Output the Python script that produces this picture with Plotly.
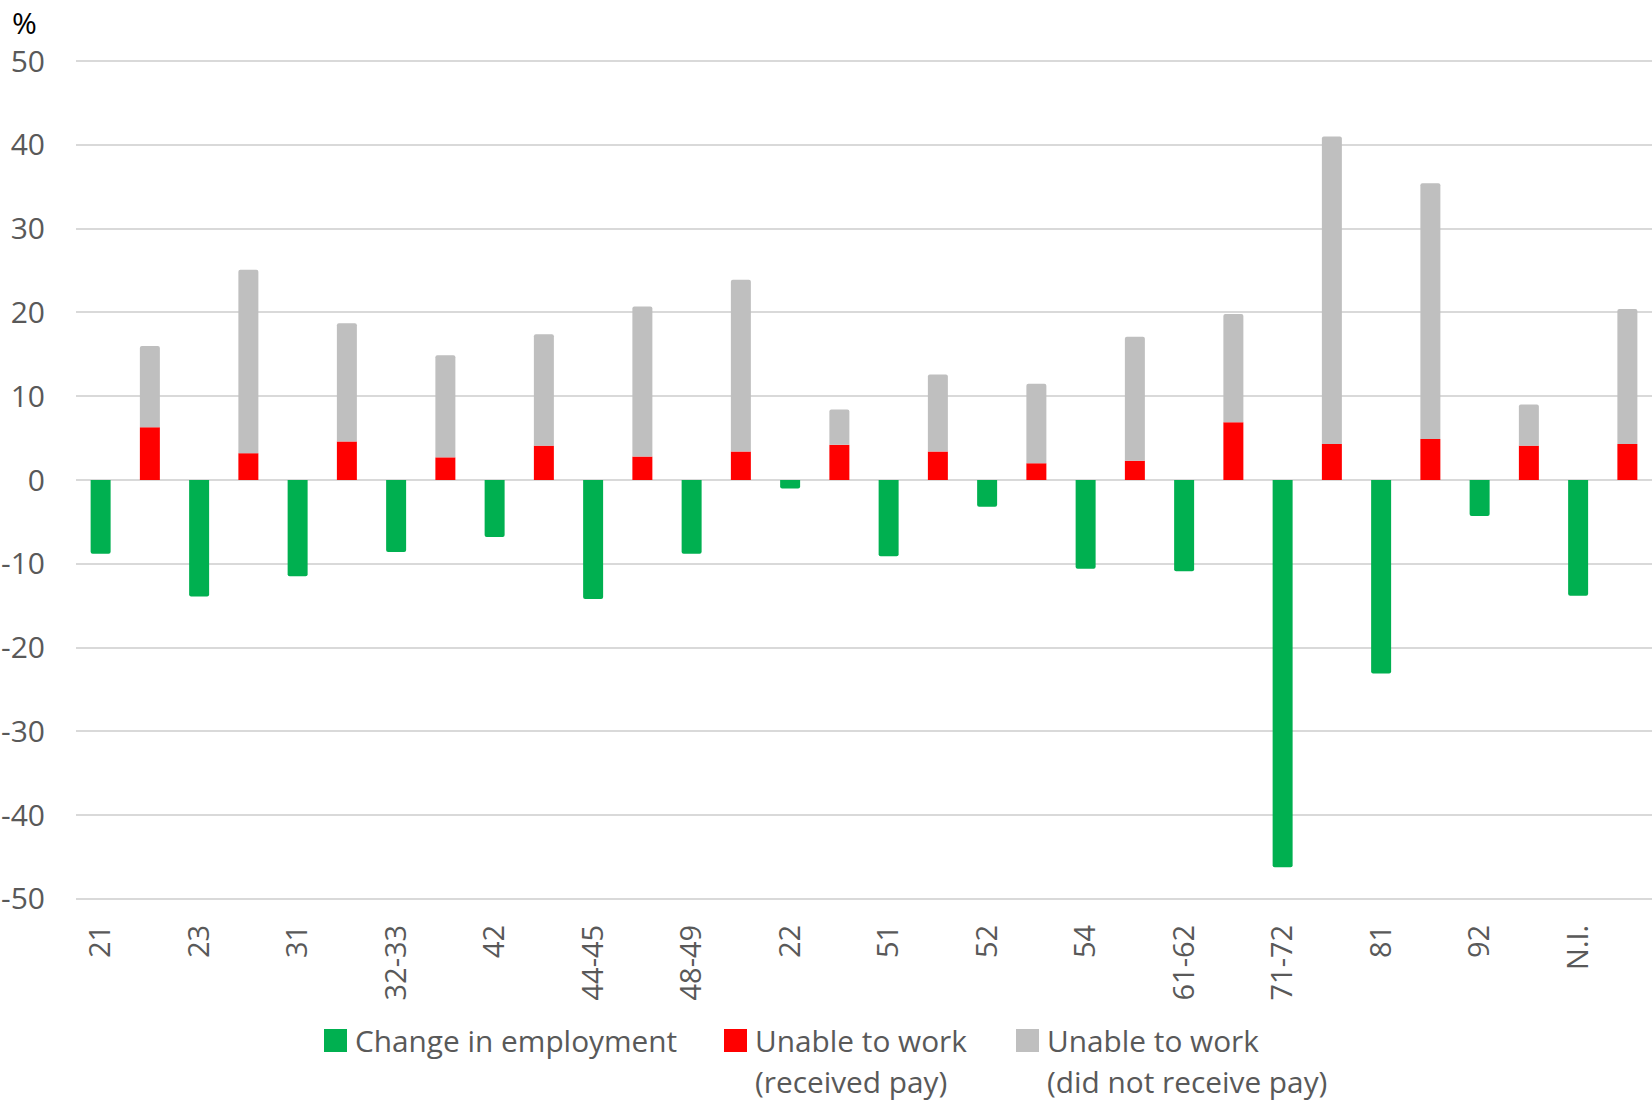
import plotly.graph_objects as go

# ---- data ----
categories = ["21", "23", "31", "32-33", "42", "44-45", "48-49", "22",
              "51", "52", "54", "61-62", "71-72", "81", "92", "N.I."]
change_in_employment = [-8.8, -13.9, -11.5, -8.6, -6.8, -14.2, -8.8, -1.0,
                        -9.1, -3.2, -10.6, -10.9, -46.2, -23.1, -4.3, -13.8]
unable_received_pay = [6.3, 3.2, 4.6, 2.7, 4.1, 2.8, 3.4, 4.2,
                       3.4, 2.0, 2.3, 6.9, 4.3, 4.9, 4.1, 4.3]
unable_no_pay = [9.7, 21.9, 14.1, 12.2, 13.3, 17.9, 20.5, 4.2,
                 9.2, 9.5, 14.8, 12.9, 36.7, 30.5, 4.9, 16.1]
y_ticks = [-50, -40, -30, -20, -10, 0, 10, 20, 30, 40, 50]

GREEN = "#00B050"
RED = "#FF0000"
GRAY = "#BFBFBF"
TXT = "#595959"
FONT = "Open Sans"

W, H = 1652, 1103
ML, MR, MT, MB = 76, 0, 60, 203
PW, PH = W - ML - MR, H - MT - MB

BW = 0.203  # bar width in category units

fig = go.Figure()
fig.add_trace(go.Bar(x=categories, y=change_in_employment, name="Change in employment",
                     marker=dict(color=GREEN, line=dict(width=0), cornerradius=2),
                     offset=-BW / 2, width=BW, showlegend=False))
fig.add_trace(go.Bar(x=categories, y=unable_received_pay, name="Unable to work (received pay)",
                     marker=dict(color=RED, line=dict(width=0)),
                     offset=0.5 - BW / 2, width=BW, showlegend=False))
fig.add_trace(go.Bar(x=categories, y=unable_no_pay, name="Unable to work (did not receive pay)",
                     marker=dict(color=GRAY, line=dict(width=0), cornerradius=2),
                     offset=0.5 - BW / 2, width=BW, showlegend=False))


def px_x(p):
    return (p - ML) / PW


def px_y(p):
    return (H - MB - p) / PH


shapes = []
annotations = []
legend_items = [
    (GREEN, 324, ["Change in employment"]),
    (RED, 724, ["Unable to work", "(received pay)"]),
    (GRAY, 1016, ["Unable to work", "(did not receive pay)"]),
]
for color, x0, lines in legend_items:
    shapes.append(dict(type="rect", xref="paper", yref="paper",
                       x0=px_x(x0), x1=px_x(x0 + 23), y0=px_y(1029), y1=px_y(1052),
                       fillcolor=color, line=dict(width=0), layer="above"))
    for i, t in enumerate(lines):
        annotations.append(dict(text=t, xref="paper", yref="paper",
                                x=px_x(x0 + 29), y=px_y(1040 + 41 * i),
                                xanchor="left", yanchor="middle", showarrow=False,
                                font=dict(family=FONT, size=29.8, color=TXT)))

annotations.append(dict(text="%", xref="paper", yref="paper",
                        x=px_x(10), y=px_y(0), xanchor="left", yanchor="top",
                        showarrow=False, font=dict(family=FONT, size=30, color="#000000")))

fig.update_layout(
    width=W, height=H,
    margin=dict(l=ML, r=MR, t=MT, b=MB, pad=0),
    barmode="relative",
    plot_bgcolor="white", paper_bgcolor="white",
    font=dict(family=FONT, size=28, color=TXT),
    shapes=shapes, annotations=annotations,
    xaxis=dict(type="category", range=[-0.25, len(categories) - 0.25],
               tickangle=-90, tickfont=dict(family=FONT, size=29, color=TXT),
               showgrid=False, zeroline=False, showline=False, ticks="",
               ticklabelstandoff=18),
    yaxis=dict(range=[-50.12, 50.12], tickvals=y_ticks, ticktext=[str(v) for v in y_ticks],
               tickfont=dict(family=FONT, size=30, color=TXT),
               showgrid=True, gridcolor="#D9D9D9", gridwidth=1.5,
               zeroline=True, zerolinecolor="#D9D9D9", zerolinewidth=1.5,
               showline=False, ticks="", ticklabelstandoff=30),
)

fig.write_html("out.html", config={"displayModeBar": False},
               post_script="document.body.style.margin='0';document.body.style.overflow='hidden';")
